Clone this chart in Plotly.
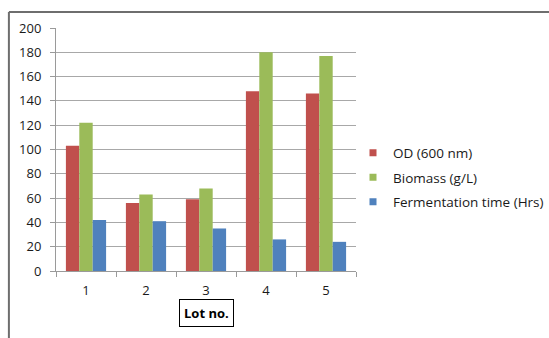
import plotly.graph_objects as go

# Lot numbers and the three measured quantities per lot
lots = ["1", "2", "3", "4", "5"]
od_600 = [103, 56, 59, 148, 146]
biomass = [122, 63, 68, 180, 177]
ferm_time = [42, 41, 35, 26, 24]

series_names = ["OD (600 nm)", "Biomass (g/L)", "Fermentation time (Hrs)"]
series_colors = ["#C0504D", "#9BBB59", "#4F81BD"]
y_ticks = [0, 20, 40, 60, 80, 100, 120, 140, 160, 180, 200]

FONT = "Open Sans"

fig = go.Figure()
for name, vals, color in zip(series_names, [od_600, biomass, ferm_time], series_colors):
    fig.add_trace(go.Bar(
        x=lots, y=vals, name=name, marker=dict(color=color, line=dict(width=0)),
        showlegend=False,
    ))
    # compact square swatch for the legend
    fig.add_trace(go.Scatter(
        x=[None], y=[None], mode="markers", name=name, legendgroup=name,
        marker=dict(symbol="square", size=7, color=color),
    ))

fig.update_layout(
    width=549, height=338,
    margin=dict(l=56, r=193, t=28, b=67, autoexpand=False),
    paper_bgcolor="white", plot_bgcolor="white",
    barmode="group", bargap=0.33, bargroupgap=0,
    font=dict(family=FONT, size=13, color="#1a1a1a"),
    legend=dict(
        x=0.99, y=0.385, xanchor="left", yanchor="middle",
        font=dict(family=FONT, size=13.5, color="#1a1a1a"),
        tracegroupgap=4, itemwidth=30, bgcolor="rgba(0,0,0,0)",
    ),
    xaxis=dict(
        type="category", showgrid=False, showline=True, linecolor="#9a9a9a", linewidth=1,
        ticks="outside", ticklen=5, tickcolor="#9a9a9a", tickson="boundaries",
        ticklabelstandoff=7, tickfont=dict(size=13),
    ),
    yaxis=dict(
        range=[0, 200], tickvals=y_ticks, showgrid=True, gridcolor="#a8a8a8", gridwidth=1,
        showline=True, linecolor="#9a9a9a", linewidth=1,
        ticks="outside", ticklen=5, tickcolor="#9a9a9a", ticklabelstandoff=6,
        tickfont=dict(size=13), zeroline=False,
    ),
    shapes=[
        # outer chart frame (top and left edges)
        dict(type="line", xref="paper", yref="paper", x0=-0.157, x1=1.7,
             y0=1.066, y1=1.066, line=dict(color="#6e6e6e", width=2)),
        dict(type="line", xref="paper", yref="paper", x0=-0.157, x1=-0.157,
             y0=1.066, y1=-0.3, line=dict(color="#6e6e6e", width=2)),
    ],
    annotations=[
        dict(text="<b>Lot no.</b>", xref="paper", yref="paper", x=0.5, y=-0.174,
             xanchor="center", yanchor="middle", showarrow=False,
             font=dict(family=FONT, size=13, color="#000000"),
             bordercolor="#000000", borderwidth=1, borderpad=4, bgcolor="white"),
    ],
)

fig.write_html("out.html")
